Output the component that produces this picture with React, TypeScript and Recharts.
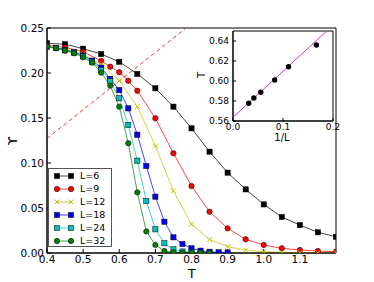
import React from 'react';
import { LineChart, Line, XAxis, YAxis, CartesianGrid, ReferenceArea } from 'recharts';

// ---- main panel data: helicity modulus vs temperature ----
const T_L6 = [0.40, 0.45, 0.50, 0.55, 0.60, 0.65, 0.70, 0.75, 0.80, 0.85, 0.90, 0.95, 1.00, 1.05, 1.10, 1.15, 1.20];
const U_L6 = [0.233, 0.232, 0.227, 0.221, 0.2125, 0.199, 0.183, 0.1626, 0.1385, 0.1126, 0.0893, 0.0707, 0.054, 0.040, 0.031, 0.023, 0.018];

const T_L9 = [0.40, 0.45, 0.50, 0.55, 0.575, 0.60, 0.625, 0.65, 0.70, 0.75, 0.80, 0.85, 0.90, 0.95, 1.00, 1.05, 1.10, 1.15, 1.20];
const U_L9 = [0.231, 0.2285, 0.2235, 0.2135, 0.207, 0.2008, 0.1914, 0.1803, 0.1497, 0.1108, 0.0744, 0.0459, 0.0274, 0.0152, 0.0089, 0.0052, 0.0033, 0.0022, 0.0014];

const T_L12 = [0.40, 0.45, 0.50, 0.55, 0.60, 0.65, 0.70, 0.75, 0.80, 0.85, 0.90, 0.95, 1.00, 1.05, 1.10, 1.15, 1.20];
const U_L12 = [0.2295, 0.2265, 0.221, 0.2095, 0.1915, 0.1626, 0.1189, 0.069, 0.032, 0.015, 0.007, 0.0033, 0.0014, 0.0007, 0.0004, 0.0002, 0.0001];

const T_L18 = [0.40, 0.425, 0.45, 0.475, 0.50, 0.525, 0.55, 0.575, 0.60, 0.625, 0.65, 0.675, 0.70, 0.725, 0.75, 0.775, 0.80, 0.825, 0.85, 0.875, 0.90];
const U_L18 = [0.2295, 0.228, 0.2258, 0.2232, 0.2195, 0.2138, 0.206, 0.1935, 0.181, 0.1607, 0.1315, 0.0967, 0.0626, 0.0348, 0.0174, 0.010, 0.0052, 0.0026, 0.0014, 0.0008, 0.0006];

const T_L24 = [0.40, 0.425, 0.45, 0.475, 0.50, 0.525, 0.55, 0.575, 0.60, 0.625, 0.65, 0.675, 0.70, 0.725, 0.75, 0.775, 0.80, 0.825, 0.85];
const U_L24 = [0.229, 0.2276, 0.2252, 0.2225, 0.2185, 0.2125, 0.2035, 0.191, 0.1719, 0.1422, 0.1026, 0.0578, 0.0263, 0.0108, 0.0042, 0.0017, 0.0008, 0.0004, 0.0002];

const T_L32 = [0.40, 0.425, 0.45, 0.475, 0.50, 0.525, 0.55, 0.575, 0.60, 0.625, 0.65, 0.675, 0.70, 0.725, 0.75, 0.775, 0.80, 0.825, 0.85];
const U_L32 = [0.2293, 0.2274, 0.2248, 0.2219, 0.2174, 0.2115, 0.2004, 0.186, 0.1626, 0.122, 0.0674, 0.024, 0.009, 0.0022, 0.0008, 0.0003, 0.0001, 0.0001, 0.0];

// dashed reference line endpoints (T, Upsilon)
const DASH_T = [0.40, 0.785];
const DASH_U = [0.1273, 0.25];

const X_TICKS = [0.4, 0.5, 0.6, 0.7, 0.8, 0.9, 1.0, 1.1];
const Y_TICKS = [0.0, 0.05, 0.10, 0.15, 0.20, 0.25];

// ---- inset data: T* vs 1/L ----
const INV_L = [0.1667, 0.1111, 0.0833, 0.0556, 0.0417, 0.0313];
const T_STAR = [0.636, 0.6143, 0.601, 0.5887, 0.583, 0.5777];
const FIT_X = [0.0, 0.1875];
const FIT_T = [0.5637, 0.65];
const INSET_X_TICKS = [0.0, 0.1, 0.2];
const INSET_Y_TICKS = [0.56, 0.58, 0.60, 0.62, 0.64];

type Shape = 'square' | 'circle' | 'x';

const SERIES: { name: string; T: number[]; U: number[]; color: string; shape: Shape }[] = [
  { name: 'L=6', T: T_L6, U: U_L6, color: '#000000', shape: 'square' },
  { name: 'L=9', T: T_L9, U: U_L9, color: '#ff0000', shape: 'circle' },
  { name: 'L=12', T: T_L12, U: U_L12, color: '#bfbf00', shape: 'x' },
  { name: 'L=18', T: T_L18, U: U_L18, color: '#0000ff', shape: 'square' },
  { name: 'L=24', T: T_L24, U: U_L24, color: '#00bfbf', shape: 'square' },
  { name: 'L=32', T: T_L32, U: U_L32, color: '#008000', shape: 'circle' },
];

const FONT = '"DejaVu Sans", sans-serif';

function Marker({ cx, cy, shape, color }: { cx: number; cy: number; shape: Shape; color: string }) {
  if (shape === 'square') {
    return <rect x={cx - 2.6} y={cy - 2.6} width={5.2} height={5.2} fill={color} stroke="#000" strokeWidth={0.5} />;
  }
  if (shape === 'circle') {
    return <circle cx={cx} cy={cy} r={2.7} fill={color} stroke="#000" strokeWidth={0.5} />;
  }
  return (
    <g stroke={color} strokeWidth={1}>
      <line x1={cx - 2.5} y1={cy - 2.5} x2={cx + 2.5} y2={cy + 2.5} />
      <line x1={cx - 2.5} y1={cy + 2.5} x2={cx + 2.5} y2={cy - 2.5} />
    </g>
  );
}

const makeDot = (shape: Shape, color: string) => (props: any) => {
  const { cx, cy, index } = props;
  if (cx == null || cy == null) return <g key={`e${index}`} />;
  return (
    <g key={`d${index}`}>
      <Marker cx={cx} cy={cy} shape={shape} color={color} />
    </g>
  );
};

const tickStyle = { fontSize: 10.5, fill: '#000', fontFamily: FONT };
const insetTickStyle = { fontSize: 9, fill: '#000', fontFamily: FONT };

export default function App() {
  const seriesData = SERIES.map((s) => s.T.map((t, i) => ({ T: t, v: s.U[i] })));
  const dashData = DASH_T.map((t, i) => ({ T: t, v: DASH_U[i] }));
  const insetPts = INV_L.map((x, i) => ({ x, t: T_STAR[i] }));
  const fitData = FIT_X.map((x, i) => ({ x, t: FIT_T[i] }));

  return (
    <div style={{ position: 'absolute', left: 0, top: 0, width: 374, height: 282, background: '#fff' }}>
      <div style={{ position: 'absolute', left: 0, top: 0 }}>
        <LineChart width={374} height={282} margin={{ top: 28, right: 38, bottom: 4, left: 7 }}>
          <XAxis
            dataKey="T"
            type="number"
            domain={[0.4, 1.2]}
            ticks={X_TICKS}
            interval={0}
            allowDataOverflow
            height={25}
            tickSize={-4}
            tickMargin={7}
            tickFormatter={(v: number) => v.toFixed(1)}
            tick={tickStyle}
            stroke="#000"
          />
          <XAxis
            xAxisId="top"
            orientation="top"
            type="number"
            domain={[0.4, 1.2]}
            ticks={X_TICKS}
            interval={0}
            allowDataOverflow
            height={0}
            tickSize={-4}
            tickFormatter={() => ''}
            stroke="#000"
          />
          <YAxis
            type="number"
            domain={[0, 0.25]}
            ticks={Y_TICKS}
            interval={0}
            allowDataOverflow
            width={40}
            tickSize={-4}
            tickMargin={7}
            tickFormatter={(v: number) => v.toFixed(2)}
            tick={tickStyle}
            stroke="#000"
          />
          <YAxis
            yAxisId="right"
            orientation="right"
            type="number"
            domain={[0, 0.25]}
            ticks={Y_TICKS}
            interval={0}
            allowDataOverflow
            width={0}
            tickSize={-4}
            tickFormatter={() => ''}
            stroke="#000"
          />
          <ReferenceArea x1={0.4} x2={1.2} y1={0} y2={0.25} fill="none" stroke="#000" strokeWidth={1} ifOverflow="visible" />
          <Line
            data={dashData}
            dataKey="v"
            stroke="#ff3333"
            strokeWidth={1}
            strokeDasharray="4 3"
            dot={false}
            activeDot={false}
            isAnimationActive={false}
          />
          {SERIES.map((s, i) => (
            <Line
              key={s.name}
              data={seriesData[i]}
              dataKey="v"
              name={s.name}
              stroke={s.color}
              strokeOpacity={0.72}
              strokeWidth={1}
              dot={makeDot(s.shape, s.color)}
              activeDot={false}
              isAnimationActive={false}
            />
          ))}
        </LineChart>
      </div>

      {/* inset */}
      <div style={{ position: 'absolute', left: 190, top: 15 }}>
        <LineChart width={150} height={125} margin={{ top: 16, right: 7, bottom: 2, left: 10 }}>
          <CartesianGrid fill="#fff" horizontal={false} vertical={false} />
          <XAxis
            dataKey="x"
            type="number"
            domain={[0, 0.2]}
            ticks={INSET_X_TICKS}
            interval={0}
            allowDataOverflow
            height={17}
            tickSize={-3}
            tickMargin={5.5}
            tickFormatter={(v: number) => v.toFixed(1)}
            tick={insetTickStyle}
            stroke="#000"
          />
          <XAxis
            xAxisId="top"
            orientation="top"
            type="number"
            domain={[0, 0.2]}
            ticks={INSET_X_TICKS}
            interval={0}
            allowDataOverflow
            height={0}
            tickSize={-3}
            tickFormatter={() => ''}
            stroke="#000"
          />
          <YAxis
            type="number"
            domain={[0.56, 0.65]}
            ticks={INSET_Y_TICKS}
            interval={0}
            allowDataOverflow
            width={33}
            tickSize={-3}
            tickMargin={7}
            tickFormatter={(v: number) => v.toFixed(2)}
            tick={insetTickStyle}
            stroke="#000"
          />
          <YAxis
            yAxisId="right"
            orientation="right"
            type="number"
            domain={[0.56, 0.65]}
            ticks={INSET_Y_TICKS}
            interval={0}
            allowDataOverflow
            width={0}
            tickSize={-3}
            tickFormatter={() => ''}
            stroke="#000"
          />
          <ReferenceArea x1={0} x2={0.2} y1={0.56} y2={0.65} fill="none" stroke="#000" strokeWidth={1} ifOverflow="visible" />
          <Line
            data={fitData}
            dataKey="t"
            stroke="#cc33cc"
            strokeWidth={1}
            dot={false}
            activeDot={false}
            isAnimationActive={false}
          />
          <Line
            data={insetPts}
            dataKey="t"
            stroke="none"
            dot={(p: any) =>
              p.cx == null ? (
                <g key={`i${p.index}`} />
              ) : (
                <circle key={`i${p.index}`} cx={p.cx} cy={p.cy} r={2.7} fill="#000" />
              )
            }
            activeDot={false}
            isAnimationActive={false}
          />
        </LineChart>
      </div>

      {/* labels and legend overlay */}
      <svg
        width={374}
        height={282}
        style={{ position: 'absolute', left: 0, top: 0, pointerEvents: 'none' }}
        fontFamily={FONT}
      >
        <text x={191.8} y={277.5} textAnchor="middle" fontSize={13} fill="#000">
          T
        </text>
        <text transform="translate(16.5,141) rotate(-90)" textAnchor="middle" fontSize={13} fill="#000">
          ϒ
        </text>
        <text transform="translate(205,75) rotate(-90)" textAnchor="middle" fontSize={10} fill="#000">
          T
        </text>
        <text x={282} y={141} textAnchor="middle" fontSize={10} fill="#000">
          1/L
        </text>

        <rect x={48.5} y={168.5} width={63} height={78} fill="#fff" stroke="#555" strokeWidth={1} />
        {SERIES.map((s, i) => {
          const y = 176 + i * 13;
          return (
            <g key={s.name}>
              <line x1={57} y1={y} x2={71} y2={y} stroke={s.color} strokeOpacity={0.72} strokeWidth={1} />
              <Marker cx={57} cy={y} shape={s.shape} color={s.color} />
              <Marker cx={71} cy={y} shape={s.shape} color={s.color} />
              <text x={80} y={y} dy="0.35em" fontSize={9.5} fill="#000">
                {s.name}
              </text>
            </g>
          );
        })}
      </svg>
    </div>
  );
}
